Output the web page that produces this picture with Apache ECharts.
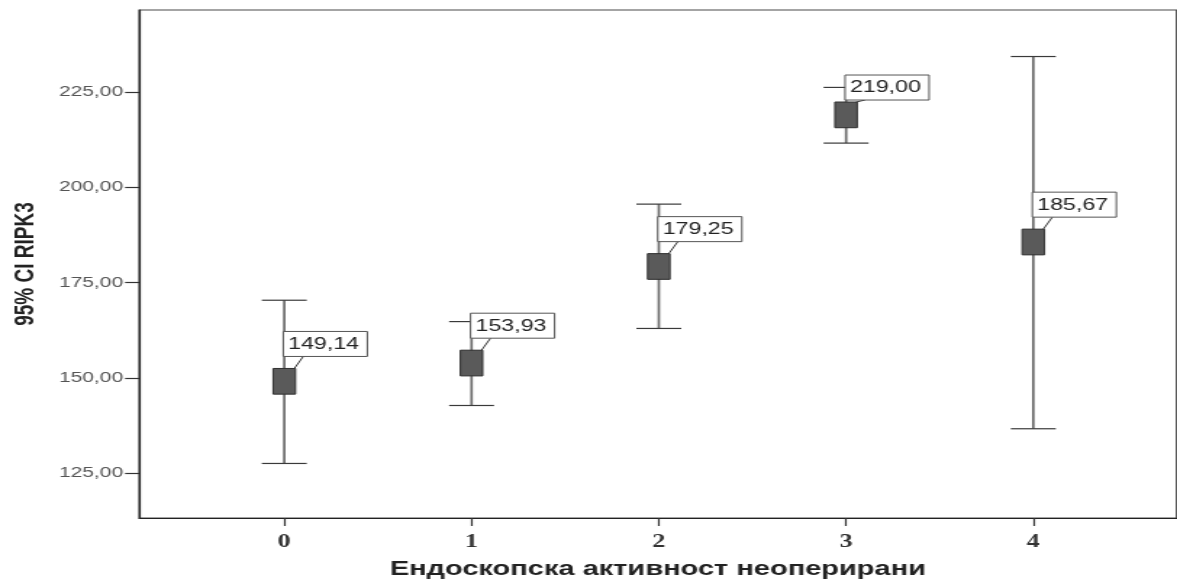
<!DOCTYPE html>
<html>
<head>
<meta charset="utf-8">
<script src="https://cdn.jsdelivr.net/npm/echarts@6/dist/echarts.min.js"></script>
<style>
  html, body { margin: 0; padding: 0; background: #fff; overflow: hidden; }
  #wrap { width: 1177px; height: 584px; overflow: hidden; }
  /* the reference image is a horizontally stretched SPSS chart */
  #chart { width: 812px; height: 584px; transform: scaleX(1.4495); transform-origin: 0 0; }
</style>
</head>
<body>
<div id="wrap"><div id="chart"></div></div>
<script>
const categories = ['0', '1', '2', '3', '4'];
const means   = [149.14, 153.93, 179.25, 219.00, 185.67];
const ciLower = [127.6, 142.8, 163.0, 211.6, 136.7];
const ciUpper = [170.4, 164.8, 195.6, 226.2, 234.3];
const meanLabels = ['149,14', '153,93', '179,25', '219,00', '185,67'];
const yTicks = [125, 150, 175, 200, 225];
const yTickLabels = ['125,00', '150,00', '175,00', '200,00', '225,00'];
const xTicks = [0, 1, 2, 3, 4];
const yTitle = '95% CI RIPK3';
const xTitle = 'Ендоскопска активност неоперирани';

const seriesData = categories.map((c, i) => [i, ciLower[i], ciUpper[i], means[i]]);

const chart = echarts.init(document.getElementById('chart'), null, { renderer: 'canvas' });

function renderItem(params, api) {
  const i = params.dataIndex;
  const x = api.value(0);
  const pLo = api.coord([x, api.value(1)]);
  const pHi = api.coord([x, api.value(2)]);
  const pM = api.coord([x, api.value(3)]);
  const cx = pM[0];
  const capHalf = 15.5, mw = 15.4, mh = 25.7;
  const mTop = pM[1] - mh / 2;
  const gap = (i === 3) ? 2 : 12;
  const boxH = 25, boxW = 58;
  const boxTop = mTop - gap - boxH;
  const boxLeft = cx - 0.7;
  return {
    type: 'group',
    children: [
      { type: 'line', shape: { x1: cx, y1: pLo[1], x2: cx, y2: pHi[1] },
        style: { stroke: '#6c6c6c', lineWidth: 1.7 } },
      { type: 'line', shape: { x1: cx - capHalf, y1: pHi[1], x2: cx + capHalf, y2: pHi[1] },
        style: { stroke: '#3a3a3a', lineWidth: 1.2 } },
      { type: 'line', shape: { x1: cx - capHalf, y1: pLo[1], x2: cx + capHalf, y2: pLo[1] },
        style: { stroke: '#3a3a3a', lineWidth: 1.2 } },
      { type: 'rect', shape: { x: cx - mw / 2, y: mTop, width: mw, height: mh },
        style: { fill: '#5a5a5a', stroke: '#2e2e2e', lineWidth: 1 } },
      { type: 'line', shape: { x1: cx + 13.1, y1: boxTop + boxH, x2: cx + 6.9, y2: mTop },
        style: { stroke: '#333', lineWidth: 1 } },
      { type: 'rect', shape: { x: boxLeft, y: boxTop, width: boxW, height: boxH },
        style: { fill: '#fff', stroke: '#555', lineWidth: 1 } },
      { type: 'text', x: boxLeft + 3.4, y: boxTop + boxH / 2 + 0.5,
        style: { text: meanLabels[i], fill: '#222', fontSize: 16,
                 fontFamily: '"Liberation Sans", Arial, sans-serif',
                 verticalAlign: 'middle', align: 'left' } }
    ]
  };
}

chart.setOption({
  animation: false,
  backgroundColor: '#fff',
  grid: { left: 93.8, right: 0.3, top: 10, bottom: 63, show: true,
          borderColor: '#4a4a4a', borderWidth: 1.2, backgroundColor: '#fff' },
  xAxis: {
    type: 'value', min: -0.775, max: 4.765,
    name: xTitle, nameLocation: 'middle', nameGap: 41,
    nameTextStyle: { fontFamily: '"Liberation Sans", Arial, sans-serif', fontWeight: 'bold',
                     fontSize: 20, color: '#222' },
    axisLine: { show: true, onZero: false, lineStyle: { color: '#222', width: 1.2 } },
    axisTick: { show: true, length: 8, customValues: xTicks, lineStyle: { color: '#333', width: 1.2 } },
    axisLabel: { customValues: xTicks, margin: 15,
                 formatter: v => categories[Math.round(v)],
                 fontFamily: '"Liberation Serif", "Times New Roman", serif', fontWeight: 'bold',
                 fontSize: 18, color: '#333' },
    splitLine: { show: false }
  },
  yAxis: {
    type: 'value', min: 113.3, max: 246.5,
    name: yTitle, nameLocation: 'middle', nameGap: 69, nameRotate: 90,
    nameTextStyle: { fontFamily: '"Liberation Sans", Arial, sans-serif', fontWeight: 'bold',
                     fontSize: 19, color: '#222' },
    axisLine: { show: true, onZero: false, lineStyle: { color: '#222', width: 1.2 } },
    axisTick: { show: true, length: 9.7, customValues: yTicks, lineStyle: { color: '#333', width: 1.2 } },
    axisLabel: { customValues: yTicks, margin: 11,
                 formatter: v => yTickLabels[yTicks.indexOf(v)],
                 fontFamily: '"Liberation Sans", Arial, sans-serif',
                 fontSize: 14.5, color: '#555' },
    splitLine: { show: false }
  },
  series: [{
    type: 'custom',
    renderItem: renderItem,
    encode: { x: 0, y: [1, 2, 3] },
    data: seriesData,
    clip: false
  }]
});
</script>
</body>
</html>
